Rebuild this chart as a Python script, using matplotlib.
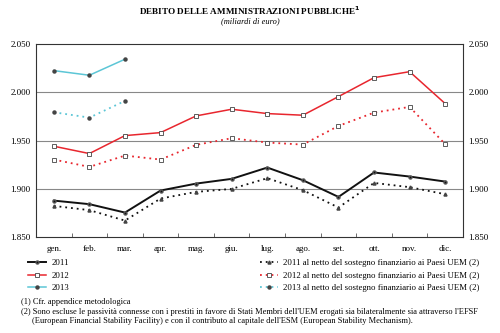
import numpy as np
import matplotlib.pyplot as plt
from matplotlib.lines import Line2D

plt.rcParams['font.family'] = ['Liberation Serif', 'DejaVu Serif']

mesi = ['gen.', 'feb.', 'mar.', 'apr.', 'mag.', 'giu.',
        'lug.', 'ago.', 'set.', 'ott.', 'nov.', 'dic.']

# miliardi di euro
debito_2011 = [1887.8, 1884.1, 1875.4, 1898.2, 1905.4, 1910.3,
               1922.0, 1908.9, 1891.6, 1916.9, 1912.7, 1907.5]
debito_2012 = [1944.1, 1936.5, 1955.1, 1958.2, 1975.5, 1982.4,
               1977.9, 1976.2, 1995.5, 2015.1, 2021.3, 1988.2]
debito_2013 = [2022.4, 2017.6, 2034.2]

netto_2011 = [1882.3, 1877.9, 1867.1, 1889.9, 1896.8, 1899.9,
              1911.0, 1898.6, 1880.6, 1906.1, 1901.7, 1894.4]
netto_2012 = [1930.3, 1922.7, 1934.4, 1930.3, 1945.5, 1952.4,
              1947.9, 1945.8, 1965.1, 1978.9, 1984.8, 1946.2]
netto_2013 = [1979.3, 1973.7, 1991.0]

y_ticks = [1850, 1900, 1950, 2000, 2050]

rosso = '#e8262e'
ciano = '#5cc6d6'
nero = '#111111'

fig = plt.figure(figsize=(5, 3.33), dpi=100)
ax = fig.add_axes([0.072, 0.288, 0.854, 0.58])

x = np.arange(len(mesi))

# stili delle serie: linea piena = debito, punteggiata = al netto del sostegno
stile_2011 = dict(color=nero, marker='o', ms=2.2, mfc=nero, mec='#555555')
stile_2012 = dict(color=rosso, marker='s', ms=2.6, mfc='white', mec='#444444', mew=0.6)
stile_2013 = dict(color=ciano, marker='o', ms=2.2, mfc='#444444', mec='#444444')
netto_2011_st = dict(color=nero, marker='^', ms=2.2, mfc='#444444', mec='#444444')
punt = (0, (1, 2.2))

ax.plot(x, debito_2011, lw=1.4, zorder=5, **stile_2011)
ax.plot(x, debito_2012, lw=1.1, zorder=5, **stile_2012)
ax.plot(x[:len(debito_2013)], debito_2013, lw=1.1, zorder=5, **stile_2013)

ax.plot(x, netto_2011, lw=1.3, ls=punt, zorder=4, **netto_2011_st)
ax.plot(x, netto_2012, lw=1.3, ls=punt, zorder=4, **stile_2012)
ax.plot(x[:len(netto_2013)], netto_2013, lw=1.3, ls=punt, zorder=4, **stile_2013)

ax.set_xlim(-0.5, len(mesi) - 0.5)
ax.set_ylim(y_ticks[0], y_ticks[-1])
ax.set_yticks(y_ticks)
ax.set_yticklabels([f'{v:,}'.replace(',', '.') for v in y_ticks])
ax.tick_params(axis='y', length=0, labelsize=6.5, pad=4,
               labelleft=True, labelright=True)
ax.set_xticks(x)
ax.set_xticklabels(mesi)
ax.tick_params(axis='x', which='major', length=0, labelsize=6.5, pad=6)
ax.set_xticks(np.arange(0.5, len(mesi) - 1, 1.0), minor=True)
ax.tick_params(axis='x', which='minor', direction='in', length=3,
               width=0.6, color='#555555')

for v in y_ticks[1:-1]:
    ax.axhline(v, color='#888888', lw=0.8, zorder=1)

for s in ax.spines.values():
    s.set_color('#333333')
    s.set_linewidth(0.8)

fig.text(0.5, 0.968, r'DEBITO DELLE AMMINISTRAZIONI PUBBLICHE$^{\mathbf{1}}$',
         ha='center', va='center', fontsize=6.6, fontweight='bold')
fig.text(0.5, 0.937, '(miliardi di euro)', ha='center', va='center',
         fontsize=6, style='italic')

handles_a = [Line2D([], [], lw=1.4, **stile_2011),
             Line2D([], [], lw=1.1, **stile_2012),
             Line2D([], [], lw=1.1, **stile_2013)]
labels_a = ['2011', '2012', '2013']
handles_b = [Line2D([], [], lw=1.3, ls=punt, **netto_2011_st),
             Line2D([], [], lw=1.3, ls=punt, **stile_2012),
             Line2D([], [], lw=1.3, ls=punt, **stile_2013)]
labels_b = [f'{a} al netto del sostegno finanziario ai Paesi UEM (2)'
            for a in labels_a]

leg_kw = dict(frameon=False, fontsize=6.3, handlelength=2.0, handletextpad=0.6,
              labelspacing=0.5, borderpad=0, loc='upper left')
fig.legend(handles_a, labels_a, bbox_to_anchor=(0.048, 0.235), **leg_kw)
fig.legend(handles_b, labels_b, bbox_to_anchor=(0.512, 0.235), **leg_kw)

fig.text(0.042, 0.094, '(1) Cfr. appendice metodologica', fontsize=6,
         va='center')
fig.text(0.042, 0.063, "(2) Sono escluse le passività connesse con i prestiti in "
         "favore di Stati Membri dell'UEM erogati sia bilateralmente sia attraverso l'EFSF",
         fontsize=6, va='center')
fig.text(0.064, 0.036, "(European Financial Stability Facility) e con il contributo "
         "al capitale dell'ESM (European Stability Mechanism).",
         fontsize=6, va='center')

fig.savefig('out.png', dpi=100)
